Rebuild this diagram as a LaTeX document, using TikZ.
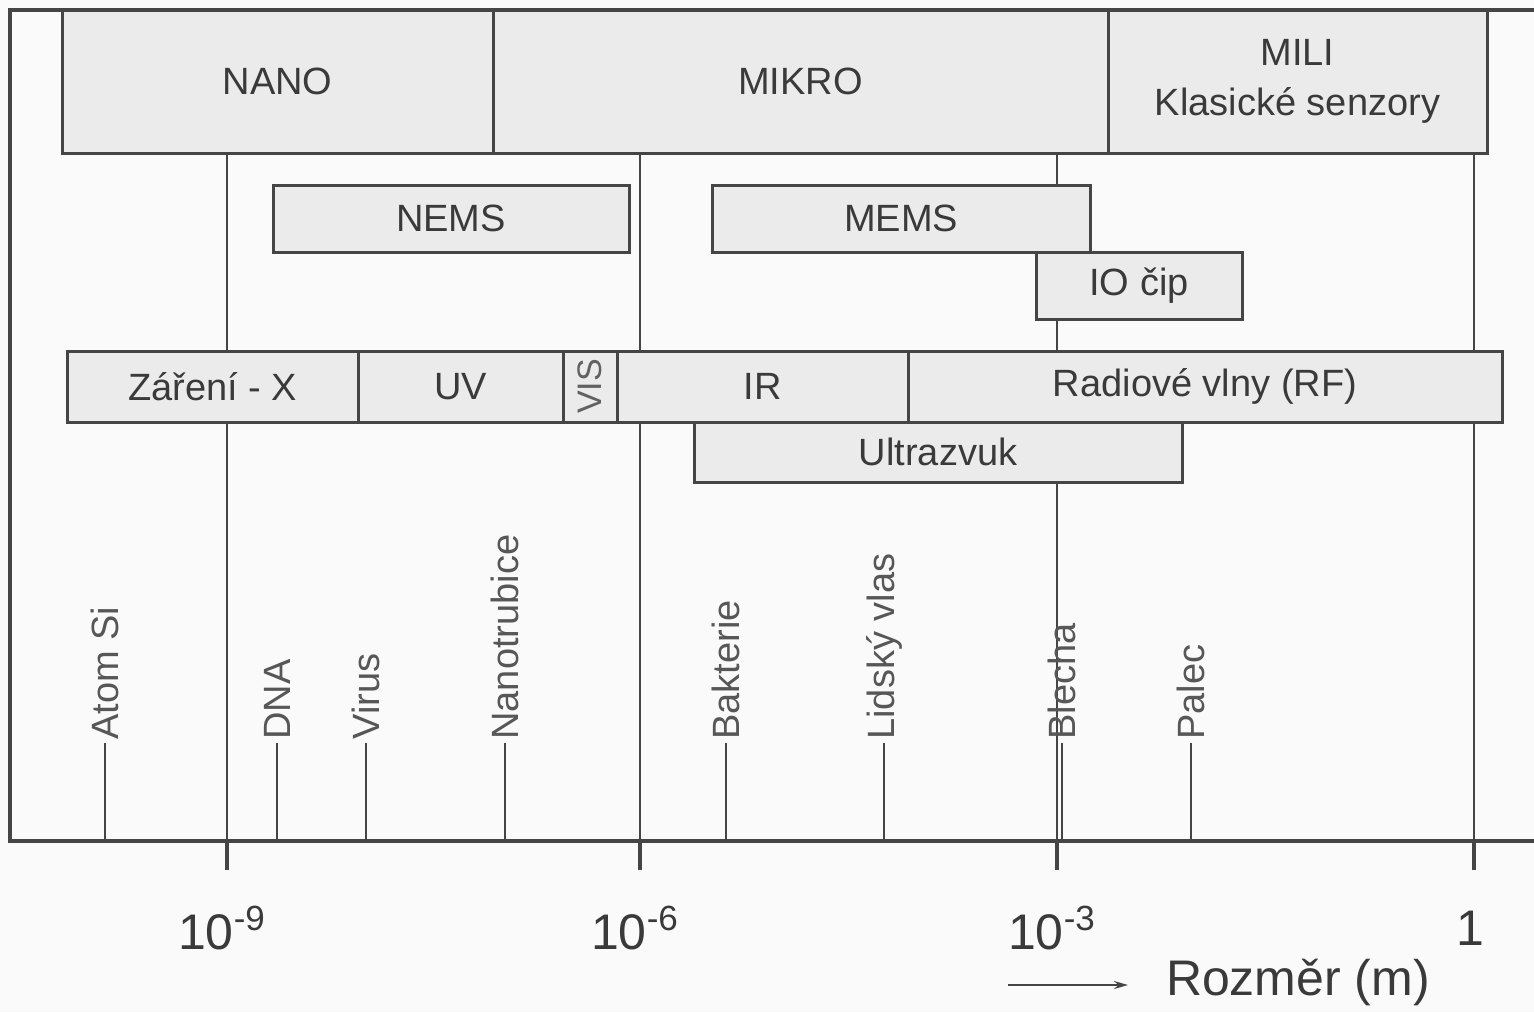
\documentclass[tikz,border=0pt]{standalone}
\usepackage{fontspec}
\setmainfont{Liberation Sans}
\usetikzlibrary{arrows.meta}
\definecolor{okraj}{HTML}{454545}
\definecolor{vypln}{HTML}{EBEBEB}
\definecolor{pismo}{HTML}{3A3A3A}
\definecolor{pozadi}{HTML}{FAFAFA}

\begin{document}
\begin{tikzpicture}[x=.5pt,y=-.5pt,>=Stealth,
  pasmo/.style={draw=okraj,fill=vypln,line width=1.5pt,inner sep=0pt,text=pismo,
    font=\fontsize{19}{25}\selectfont,align=center},
  predmet/.style={rotate=90,anchor=west,inner sep=1.5pt,text=pismo!85,
    font=\fontsize{19}{22}\selectfont},
  mrizka/.style={okraj,line width=.6pt},
  ticka/.style={okraj,line width=1.6pt},
  osapopis/.style={text=pismo,font=\fontsize{25}{30}\selectfont}]
\fill[pozadi] (0,0) rectangle (1534,1012);
\useasboundingbox (0,0) rectangle (1534,1012);
% svisle cary dekad
\foreach \x in {227,640,1057,1474} {
  \draw[mrizka] (\x,153) -- (\x,841);
  \draw[ticka] (\x,841) -- (\x,870);
}
% ramec
\draw[okraj,line width=1.8pt] (1534,10) -- (10,10) -- (10,841) -- (1534,841);
\coordinate (osa) at (10,841);
% horni pasma
\node[pasmo,minimum width=215.5pt,minimum height=71.5pt] (nano) at (277.5,81.5) {NANO};
\node[pasmo,minimum width=307.5pt,minimum height=71.5pt] (mikro) at (800.5,81.5) {MIKRO};
\node[pasmo,minimum width=189.5pt,minimum height=71.5pt] (mili) at (1297.5,81.5) {MILI\\Klasické senzory};
% technologie
\node[pasmo,minimum width=178pt,minimum height=33.5pt] (nems) at (451,218.5) {NEMS};
\node[pasmo,minimum width=189pt,minimum height=33.5pt] (mems) at (901,218.5) {MEMS};
\node[pasmo,minimum width=103pt,minimum height=33.5pt] (iocip) at (1139,285.5) {IO čip};
% spektrum
\node[pasmo,minimum width=145.5pt,minimum height=35.5pt] (xray) at (212.5,386.5) {Záření - X};
\node[pasmo,minimum width=102.5pt,minimum height=35.5pt] (uv) at (460.5,386.5) {UV};
\node[pasmo,rotate=90,minimum width=35.5pt,minimum height=27pt,text=pismo!80,
  font=\fontsize{17}{20}\selectfont] (vis) at (590,386.5) {VIS};
\node[pasmo,minimum width=145.5pt,minimum height=35.5pt] (ir) at (762.5,386.5) {IR};
\node[pasmo,minimum width=297pt,minimum height=35.5pt] (rf) at (1205,386.5) {Radiové vlny (RF)};
\node[pasmo,minimum width=244pt,minimum height=30pt] (ultra) at (938,452) {Ultrazvuk};
% predmety
\foreach \x/\t/\n in {105/Atom Si/atom,277/DNA/dna,366/Virus/virus,505/Nanotrubice/trubice,
    726/Bakterie/bakterie,884/Lidský vlas/vlas,1062/Blecha/blecha,1191/Palec/palec} {
  \node[predmet] (\n) at (\x,743) {\t};
  \draw[mrizka] (\n.west) -- (\n.west |- osa);
}
% osa
\node[osapopis] (d9) at (222,928) {10\textsuperscript{-9}};
\node[osapopis] (d6) at (635,928) {10\textsuperscript{-6}};
\node[osapopis] (d3) at (1052,928) {10\textsuperscript{-3}};
\node[osapopis] (d0) at (1470,928) {1};
\node[osapopis] (rozmer) at (1298,982) {Rozměr (m)};
\coordinate (sipkaZ) at (1008,985);
\coordinate (sipkaK) at (1128,985);
\draw[okraj,line width=1pt,-{Stealth[length=7pt,width=4pt]}] (sipkaZ) -- (sipkaK);
\end{tikzpicture}
\end{document}
